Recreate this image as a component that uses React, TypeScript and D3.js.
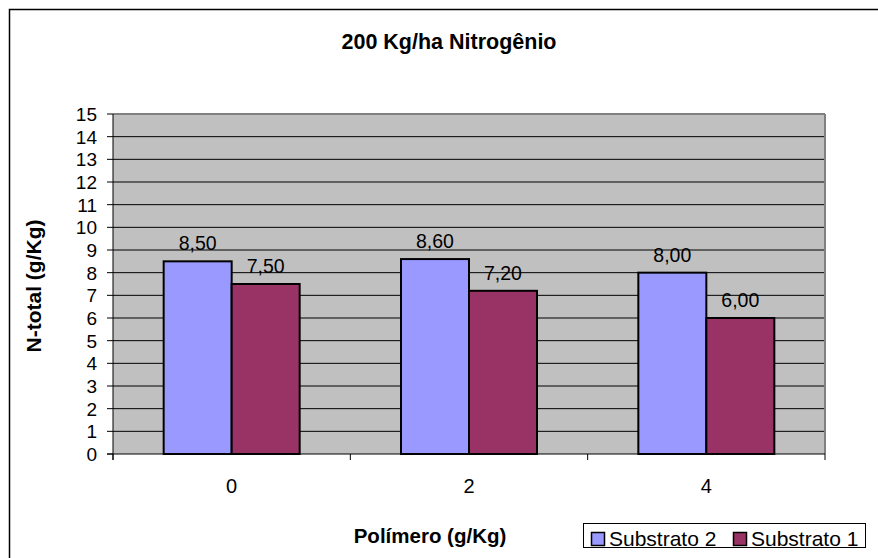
import React from "react";
import * as d3 from "d3";

const categories = ["0", "2", "4"];
const seriesNames = ["Substrato 2", "Substrato 1"];
const substrato2 = [8.5, 8.6, 8.0];
const substrato1 = [7.5, 7.2, 6.0];
const yTicks = [0, 1, 2, 3, 4, 5, 6, 7, 8, 9, 10, 11, 12, 13, 14, 15];
const colors = ["#9999FF", "#993366"];

const W = 878, H = 558;
const plot = { left: 113, right: 825, top: 114, bottom: 454 };
const font = "Arial, 'Liberation Sans', sans-serif";

export default function App() {
  const x = d3.scaleBand<string>().domain(categories).range([plot.left, plot.right]).paddingInner(0).paddingOuter(0);
  const y = d3.scaleLinear().domain([0, 15]).range([plot.bottom, plot.top]);
  const barW = 68;
  const series = [substrato2, substrato1];
  const fmt = (v: number) => v.toFixed(2).replace(".", ",");
  const boundaries = [...categories.map((c) => x(c)!), plot.right];

  return (
    <svg width={W} height={H} style={{ position: "absolute", left: 0, top: 0, background: "#fff" }} fontFamily={font}>
      <rect x={9.5} y={9.5} width={W + 10} height={H + 10} fill="#fff" stroke="#000" strokeWidth={1.5} />
      <text x={449} y={49} textAnchor="middle" fontWeight="bold" fontSize={21.5}>200 Kg/ha Nitrogênio</text>
      <rect x={plot.left} y={plot.top} width={plot.right - plot.left} height={plot.bottom - plot.top} fill="#C0C0C0" />
      {yTicks.slice(1, -1).map((t) => (
        <line key={t} x1={plot.left} x2={plot.right} y1={y(t)} y2={y(t)} stroke="#000" strokeWidth={1} />
      ))}
      <line x1={plot.left} x2={plot.right} y1={plot.top} y2={plot.top} stroke="#808080" strokeWidth={2} />
      <line x1={plot.right} x2={plot.right} y1={plot.top} y2={plot.bottom} stroke="#808080" strokeWidth={2} />
      {categories.map((c, i) =>
        series.map((s, j) => {
          const cx = x(c)! + x.bandwidth() / 2;
          const bx = cx - barW + j * barW;
          const v = s[i];
          return (
            <g key={c + j}>
              <rect x={bx} y={y(v)} width={barW} height={plot.bottom - y(v)} fill={colors[j]} stroke="#000" strokeWidth={2} />
              <text x={bx + barW / 2} y={y(v) - 11} textAnchor="middle" fontSize={19.5}>{fmt(v)}</text>
            </g>
          );
        })
      )}
      <line x1={plot.left} x2={plot.left} y1={plot.top} y2={plot.bottom + 6} stroke="#000" strokeWidth={1} />
      <line x1={plot.left - 6} x2={plot.right} y1={plot.bottom} y2={plot.bottom} stroke="#000" strokeWidth={1} />
      {yTicks.map((t) => (
        <g key={t}>
          <line x1={plot.left - 6} x2={plot.left} y1={y(t)} y2={y(t)} stroke="#000" />
          <text x={97} y={y(t) + 7} textAnchor="end" fontSize={19}>{t}</text>
        </g>
      ))}
      {boundaries.map((b, i) => (
        <line key={i} x1={b} x2={b} y1={plot.bottom} y2={plot.bottom + 6} stroke="#000" />
      ))}
      {categories.map((c) => (
        <text key={c} x={x(c)! + x.bandwidth() / 2} y={493} textAnchor="middle" fontSize={20}>{c}</text>
      ))}
      <text transform={`translate(41,${(plot.top + plot.bottom) / 2 + 2}) rotate(-90)`} textAnchor="middle" fontWeight="bold" fontSize={21}>N-total (g/Kg)</text>
      <text x={430} y={543} textAnchor="middle" fontWeight="bold" fontSize={20.5}>Polímero (g/Kg)</text>
      <rect x={583.5} y={523.5} width={282} height={24} fill="#fff" stroke="#000" strokeWidth={1} />
      {seriesNames.map((n, i) => (
        <g key={n} transform={`translate(${591 + i * 142},0)`}>
          <rect x={0.5} y={532.5} width={13} height={13} fill={colors[i]} stroke="#000" strokeWidth={1.5} />
          <text x={18} y={546} fontSize={21}>{n}</text>
        </g>
      ))}
    </svg>
  );
}
